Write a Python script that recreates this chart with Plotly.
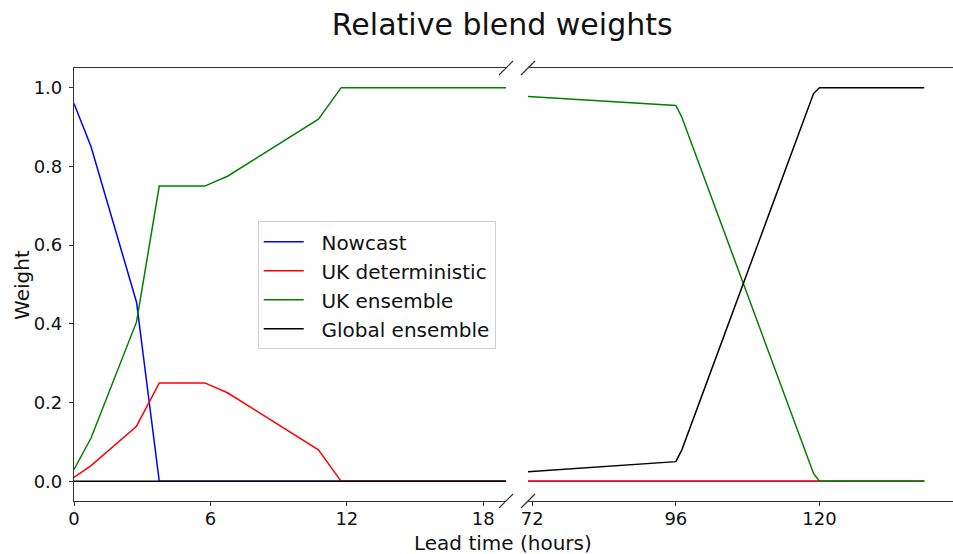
import plotly.graph_objects as go

# ---- data ----
series_names = ["Nowcast", "UK deterministic", "UK ensemble", "Global ensemble"]
series_colors = ["#0000ff", "#ff0000", "#008000", "#000000"]

lead_left = [0, 0.75, 2.75, 3.75, 5.75, 6.75, 10.75, 11.75, 19]
nowcast_left = [0.96, 0.85, 0.455, 0.0, 0.0, 0.0, 0.0, 0.0, 0.0]
ukdet_left = [0.01, 0.04, 0.14, 0.25, 0.25, 0.225, 0.08, 0.0, 0.0]
ukens_left = [0.03, 0.11, 0.405, 0.75, 0.75, 0.775, 0.92, 1.0, 1.0]
global_left = [0.0, 0.0, 0.0, 0.0, 0.0, 0.0, 0.0, 0.0, 0.0]

lead_right = [71, 96, 97, 119, 120, 137.5]
nowcast_right = [0.0, 0.0, 0.0, 0.0, 0.0, 0.0]
ukdet_right = [0.0, 0.0, 0.0, 0.0, 0.0, 0.0]
ukens_right = [0.978, 0.955, 0.925, 0.02, 0.0, 0.0]
global_right = [0.024, 0.05, 0.08, 0.985, 1.0, 1.0]

left_ticks = [0, 6, 12, 18]
right_ticks = [72, 96, 120]
y_ticks = [0.0, 0.2, 0.4, 0.6, 0.8, 1.0]
y_tick_labels = ["0.0", "0.2", "0.4", "0.6", "0.8", "1.0"]

left_vals = [nowcast_left, ukdet_left, ukens_left, global_left]
right_vals = [nowcast_right, ukdet_right, ukens_right, global_right]

FONT = "DejaVu Sans"
AX = "#333333"
PAD = "\u00a0\u00a0"  # visual gap between legend line sample and label

fig = go.Figure()
for i, name in enumerate(series_names):
    fig.add_trace(go.Scatter(x=lead_left, y=left_vals[i], mode="lines", name=PAD + name,
                             line=dict(color=series_colors[i], width=1.5),
                             legendgroup=name, xaxis="x", yaxis="y"))
for i, name in enumerate(series_names):
    fig.add_trace(go.Scatter(x=lead_right, y=right_vals[i], mode="lines", name=PAD + name,
                             line=dict(color=series_colors[i], width=1.5),
                             legendgroup=name, showlegend=False, xaxis="x2", yaxis="y2"))

axis_common = dict(showgrid=False, zeroline=False, ticks="outside", ticklen=4,
                   tickcolor=AX, tickfont=dict(family=FONT, size=18, color="#111"),
                   linecolor=AX, linewidth=1.2)

fig.update_layout(
    width=953, height=554,
    margin=dict(l=74, r=0, t=68, b=53),
    plot_bgcolor="white", paper_bgcolor="white",
    font=dict(family=FONT, size=18, color="#111"),
    title=dict(text="Relative blend weights", x=0.527, xref="container", xanchor="center",
               y=1 - 24 / 554, yref="container", yanchor="middle",
               font=dict(family=FONT, size=30, color="#111")),
    xaxis=dict(domain=[0, 0.4915], range=[0, 19], tickvals=left_ticks,
               showline=True, mirror=True, anchor="y", ticklabelstandoff=-3, **axis_common),
    xaxis2=dict(domain=[0.5165, 1], range=[71.3, 142.3], tickvals=right_ticks,
                showline=True, mirror=True, anchor="y2", ticklabelstandoff=-3, **axis_common),
    yaxis=dict(domain=[0, 1], range=[-0.05, 1.05], tickvals=y_ticks, ticktext=y_tick_labels,
               showline=True, mirror=False, anchor="x", ticklabelstandoff=3, **axis_common),
    yaxis2=dict(domain=[0, 1], range=[-0.05, 1.05], showline=False, ticks="",
                showticklabels=False, showgrid=False, zeroline=False, anchor="x2",
                matches="y"),
    legend=dict(x=0.209, y=0.646, xanchor="left", yanchor="top",
                bgcolor="white", bordercolor="#d0d0d0", borderwidth=1,
                tracegroupgap=0, itemwidth=40,
                font=dict(family=FONT, size=20, color="#111")),
    showlegend=True,
)

# axis-break marks
dy = 0.0162
shapes = []
for xr, xv, dxx in (("x domain", 1.0, 7 / 432), ("x2 domain", 0.0, 7 / 425)):
    for yv in (0.0, 1.0):
        shapes.append(dict(type="line", xref=xr, yref="y domain",
                           x0=xv - dxx, x1=xv + dxx, y0=yv - dy, y1=yv + dy,
                           line=dict(color=AX, width=1.2)))
fig.update_layout(shapes=shapes)

fig.add_annotation(text="Lead time (hours)", xref="paper", yref="paper",
                   x=0.488, y=-0.097, xanchor="center", yanchor="middle",
                   showarrow=False, font=dict(family=FONT, size=20, color="#111"))
fig.add_annotation(text="Weight", xref="paper", yref="paper", textangle=-90,
                   x=-0.0592, y=0.499, xanchor="center", yanchor="middle",
                   showarrow=False, font=dict(family=FONT, size=20, color="#111"))

fig.write_html("out.html", config={"displayModeBar": False},
               post_script="document.body.style.margin='0';")
